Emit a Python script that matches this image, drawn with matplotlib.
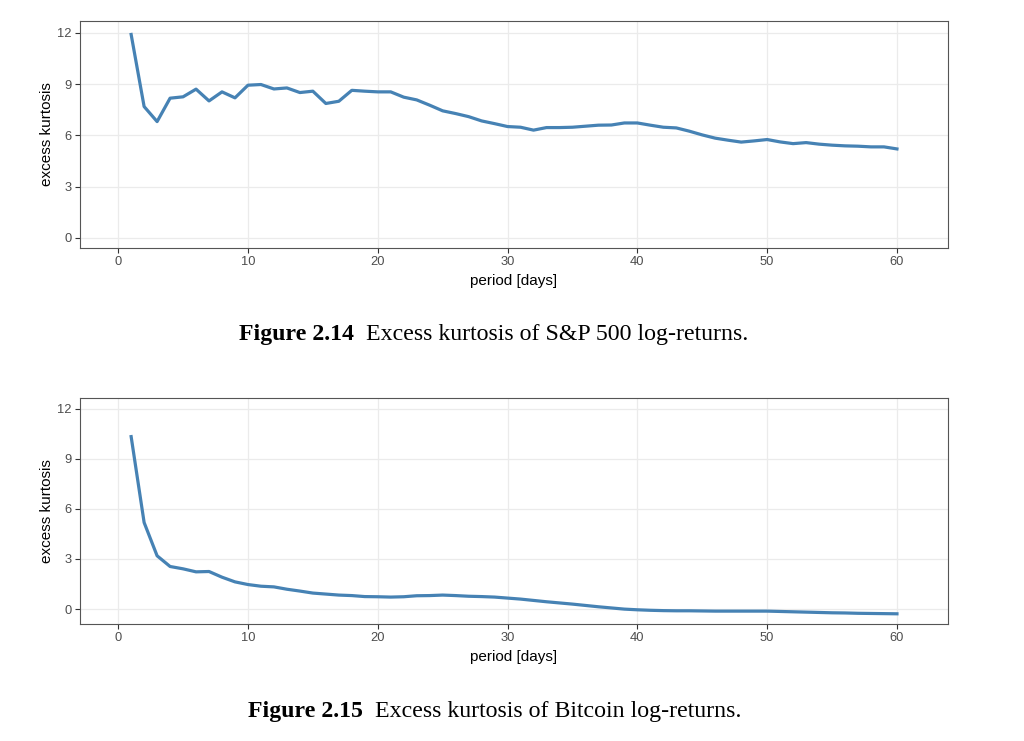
import matplotlib
matplotlib.use("Agg")
import matplotlib.pyplot as plt

# period in days, 1..60
days = list(range(1, 61))

# excess kurtosis of S&P 500 log-returns
sp500_kurt = [11.9, 7.68, 6.8, 8.17, 8.25, 8.7, 8.01, 8.54, 8.19, 8.93,
              8.97, 8.71, 8.77, 8.5, 8.58, 7.86, 7.99, 8.63, 8.58, 8.54,
              8.54, 8.23, 8.07, 7.76, 7.43, 7.27, 7.09, 6.84, 6.68, 6.51,
              6.47, 6.3, 6.45, 6.45, 6.47, 6.53, 6.59, 6.6, 6.72, 6.72,
              6.59, 6.47, 6.43, 6.24, 6.02, 5.83, 5.71, 5.6, 5.67, 5.75,
              5.61, 5.51, 5.57, 5.48, 5.42, 5.38, 5.36, 5.32, 5.32, 5.2]

# excess kurtosis of Bitcoin log-returns
btc_kurt = [10.32, 5.18, 3.19, 2.55, 2.41, 2.23, 2.25, 1.91, 1.63, 1.47,
            1.37, 1.33, 1.19, 1.08, 0.96, 0.9, 0.84, 0.81, 0.75, 0.74,
            0.72, 0.74, 0.8, 0.81, 0.84, 0.81, 0.77, 0.75, 0.72, 0.66,
            0.6, 0.52, 0.44, 0.37, 0.3, 0.22, 0.14, 0.07, 0.0, -0.04,
            -0.07, -0.09, -0.1, -0.1, -0.11, -0.12, -0.12, -0.12, -0.12, -0.12,
            -0.14, -0.16, -0.18, -0.2, -0.22, -0.23, -0.25, -0.26, -0.27, -0.28]

x_ticks = [0, 10, 20, 30, 40, 50, 60]
y_ticks = [0, 3, 6, 9, 12]

captions = [("Figure 2.14", "Excess kurtosis of S&P 500 log-returns."),
            ("Figure 2.15", "Excess kurtosis of Bitcoin log-returns.")]

sans = ["Liberation Sans", "DejaVu Sans"]
serif = ["Liberation Serif", "DejaVu Serif"]


def style_axes(ax, ylim):
    """ggplot theme_bw look-alike"""
    ax.set_xlim(-2.95, 63.95)
    ax.set_ylim(*ylim)
    ax.set_xticks(x_ticks)
    ax.set_yticks(y_ticks)
    ax.grid(True, color="#EBEBEB", linewidth=0.9)
    ax.set_axisbelow(True)
    for s in ax.spines.values():
        s.set_color("#555555")
        s.set_linewidth(0.8)
    ax.tick_params(length=3.5, width=0.8, color="#333333", labelcolor="#4D4D4D",
                   labelsize=9.3, pad=2.5)
    for lab in ax.get_xticklabels() + ax.get_yticklabels():
        lab.set_family(sans)
    ax.set_xlabel("period [days]", family=sans, fontsize=11, labelpad=4)
    ax.set_ylabel("excess kurtosis", family=sans, fontsize=11, labelpad=2)


fig = plt.figure(figsize=(10.24, 7.41), dpi=100)
ax1 = fig.add_axes([0.078, 0.6653, 0.848, 0.3064])
ax2 = fig.add_axes([0.078, 0.1579, 0.848, 0.3050])

ax1.plot(days, sp500_kurt, color="#4682B4", linewidth=2.3)
style_axes(ax1, (-0.6, 12.69))
ax2.plot(days, btc_kurt, color="#4682B4", linewidth=2.3)
style_axes(ax2, (-0.89, 12.63))

# captions: bold figure number followed by plain text, centred as a whole
renderer = fig.canvas.get_renderer()
for (num, txt), ypos, xc in zip(captions, [335, 711], [494, 495]):
    y = 1 - ypos / 741
    t1 = fig.text(0, y, num + "  ", family=serif, fontsize=17.2,
                  fontweight="bold", ha="left", va="center")
    t2 = fig.text(0, y, txt, family=serif, fontsize=17.2,
                  ha="left", va="center")
    w1 = t1.get_window_extent(renderer).width
    w2 = t2.get_window_extent(renderer).width
    x0 = xc - (w1 + w2) / 2
    t1.set_x(x0 / 1024)
    t2.set_x((x0 + w1) / 1024)

fig.savefig("out.png", dpi=100)
